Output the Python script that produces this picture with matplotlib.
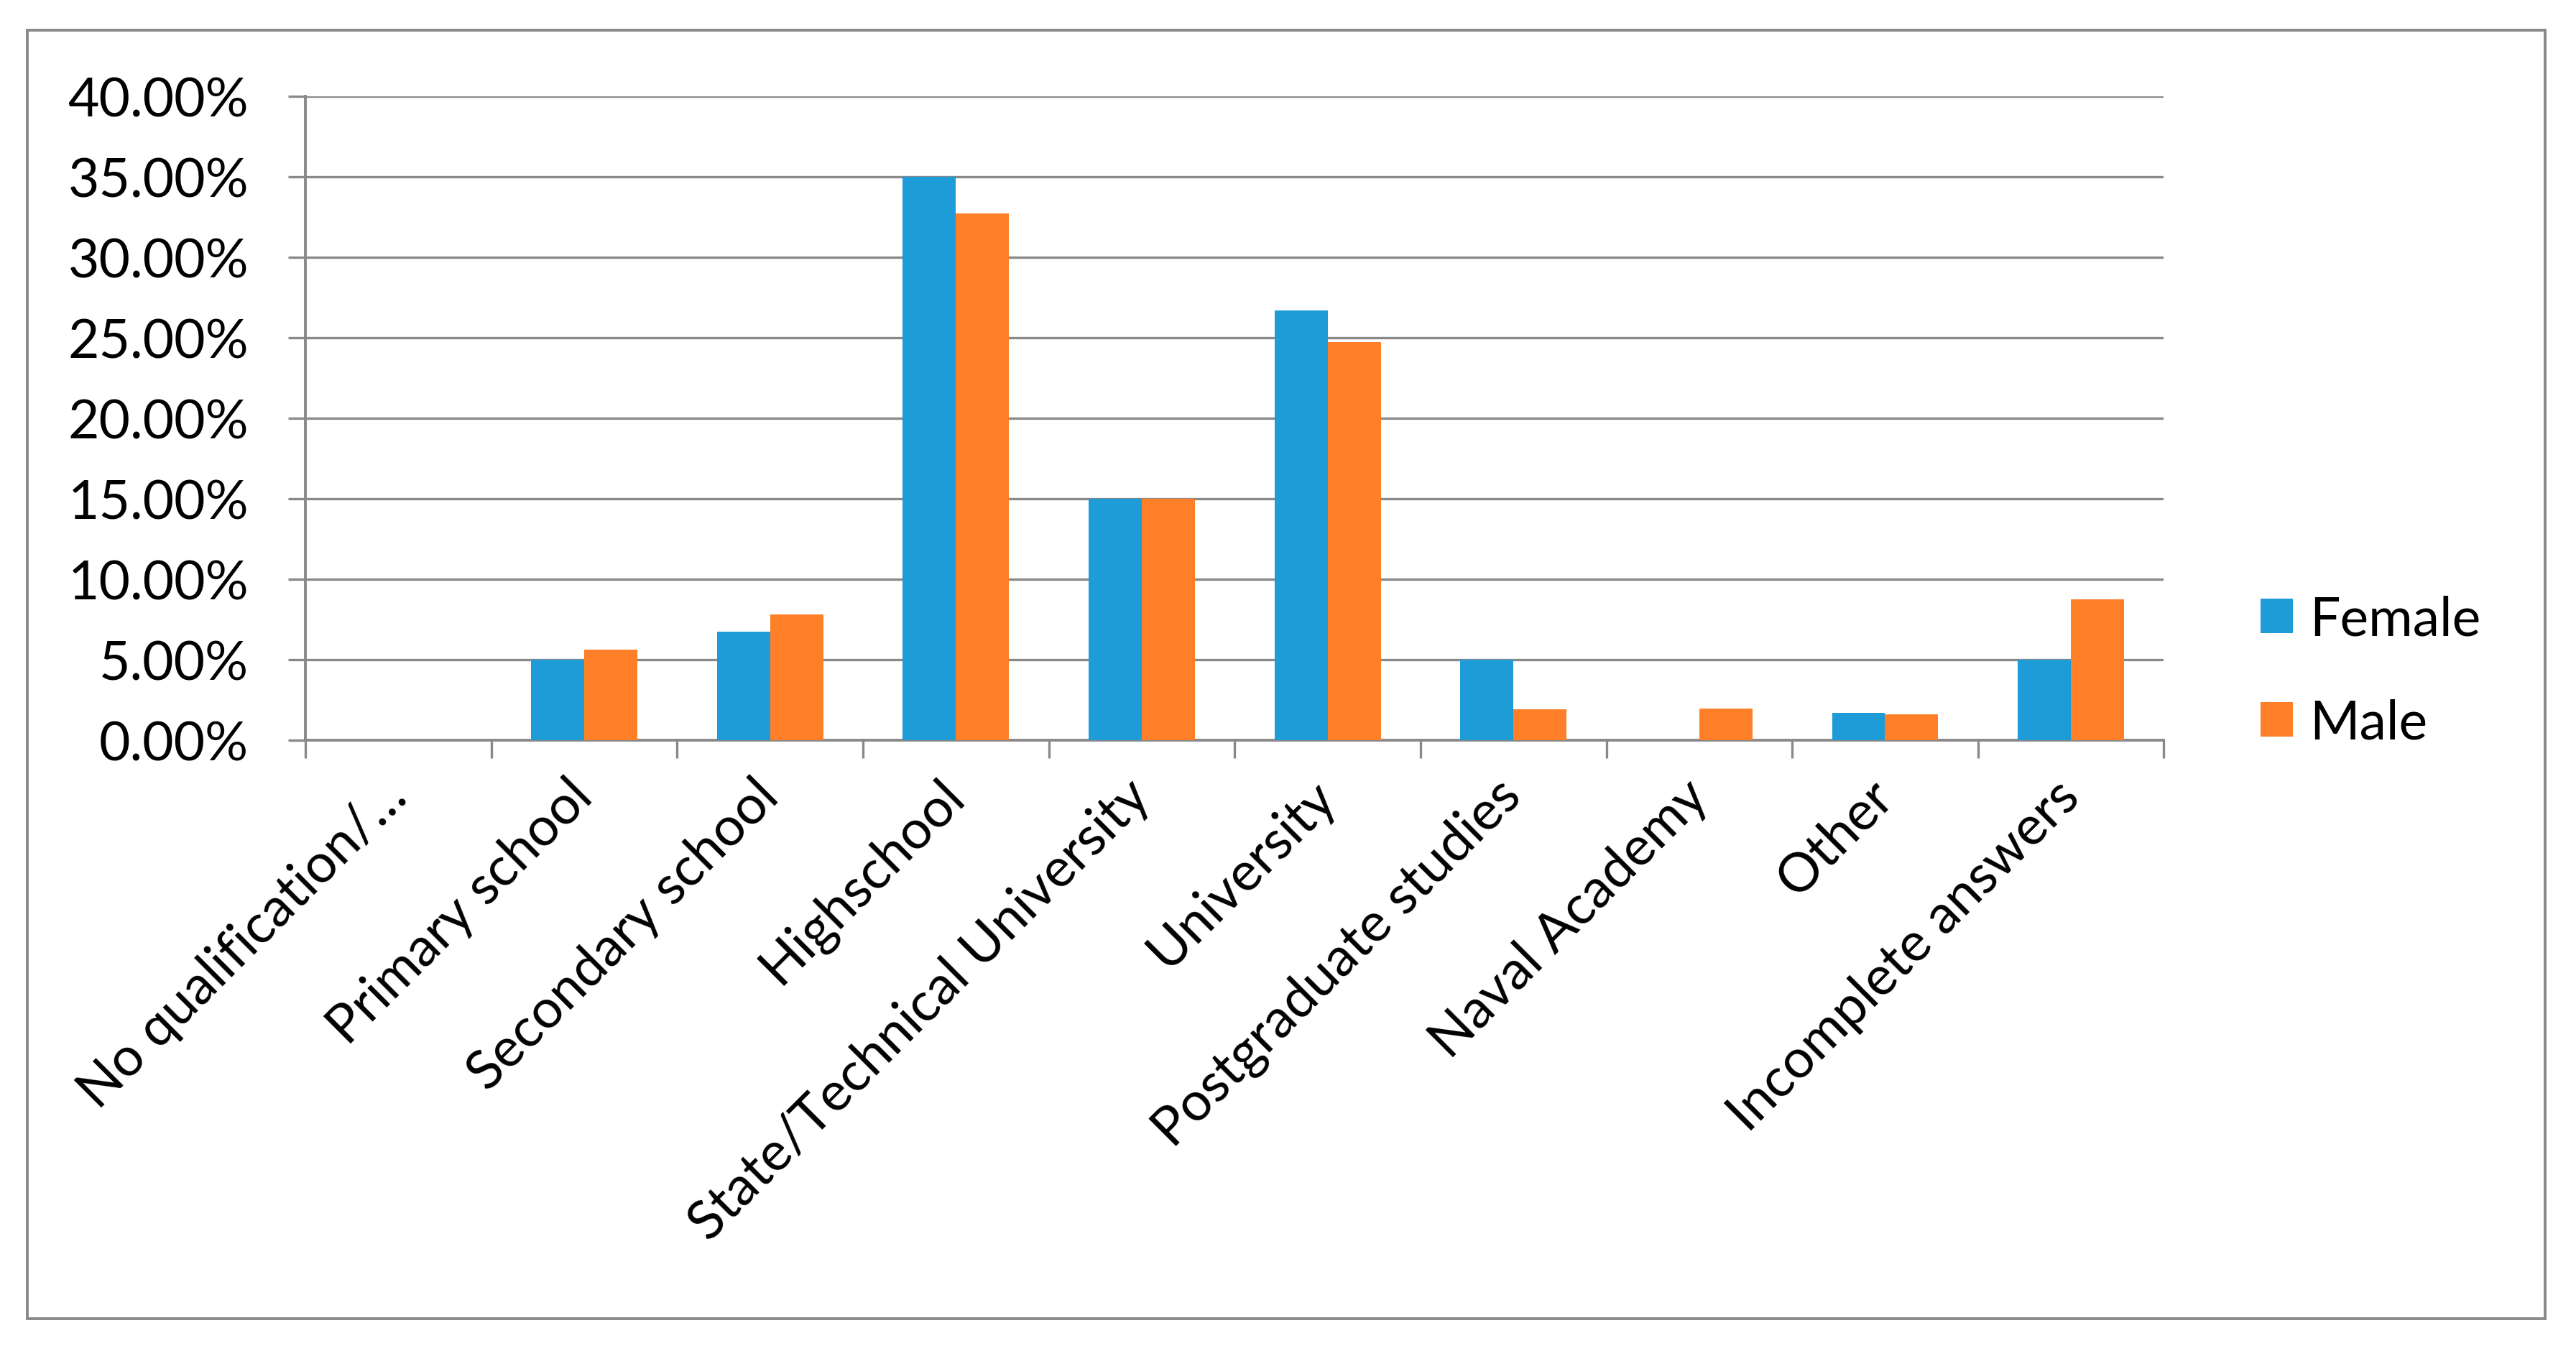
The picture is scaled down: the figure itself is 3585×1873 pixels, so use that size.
import numpy as np
import matplotlib
matplotlib.use('Agg')
import matplotlib.pyplot as plt
from matplotlib.patches import Rectangle
from matplotlib.ticker import FuncFormatter

# education level of respondents, share by gender
categories = ['No qualification/…', 'Primary school', 'Secondary school', 'Highschool',
              'State/Technical University', 'University', 'Postgraduate studies',
              'Naval Academy', 'Other', 'Incomplete answers']
female = [0.0, 5.00, 6.72, 35.00, 15.00, 26.69, 5.00, 0.0, 1.70, 5.00]
male = [0.0, 5.61, 7.80, 32.72, 15.00, 24.72, 1.92, 1.97, 1.61, 8.76]
series_names = ['Female', 'Male']
series_colors = ['#1e9cd8', '#fe7f27']

GRAY = '#898989'

def main():
    plt.rcParams['font.family'] = ['Lato', 'DejaVu Sans']

    fig = plt.figure(figsize=(17.925, 9.37), dpi=200)
    ax = fig.add_axes([0.1186, 0.45, 0.7214, 0.478])

    # outer chart border
    fig.patches.append(Rectangle((0.0106, 0.0203), 0.9774, 0.9567, transform=fig.transFigure,
                                 fill=False, edgecolor=GRAY, linewidth=1.4))

    x = np.arange(len(categories))
    w = 0.286
    ax.bar(x - w / 2, np.array(female) / 100, w, color=series_colors[0], label=series_names[0], zorder=3)
    ax.bar(x + w / 2, np.array(male) / 100, w, color=series_colors[1], label=series_names[1], zorder=3)

    ax.set_xlim(-0.5, len(categories) - 0.5)
    ax.set_ylim(0, 0.40)
    ax.set_yticks(np.arange(0, 0.401, 0.05))
    ax.yaxis.set_major_formatter(FuncFormatter(lambda v, p: f'{v * 100:.2f}%'))
    ax.yaxis.grid(True, color=GRAY, linewidth=1.2, zorder=0)
    ax.tick_params(axis='y', length=8.5, width=1.2, color=GRAY, pad=20, labelsize=27)

    # labels at centres, tick marks at category boundaries
    ax.set_xticks(x)
    ax.set_xticklabels(categories, rotation=45, ha='right', va='center', rotation_mode='anchor')
    ax.tick_params(axis='x', length=0, pad=24, labelsize=27)
    ax.set_xticks(np.arange(-0.5, len(categories), 1), minor=True)
    ax.tick_params(axis='x', which='minor', length=9, width=1.2, color=GRAY)

    for side in ['top', 'right']:
        ax.spines[side].set_visible(False)
    for side in ['left', 'bottom']:
        ax.spines[side].set_color(GRAY)
        ax.spines[side].set_linewidth(1.4)

    fig.legend(loc='center left', bbox_to_anchor=(0.8776, 0.501), frameon=False, fontsize=27,
               handlelength=0.6, handleheight=0.6, handletextpad=0.3, labelspacing=1.0,
               borderpad=0, borderaxespad=0)

    fig.savefig('out.png', dpi=200)

if __name__ == '__main__':
    main()
